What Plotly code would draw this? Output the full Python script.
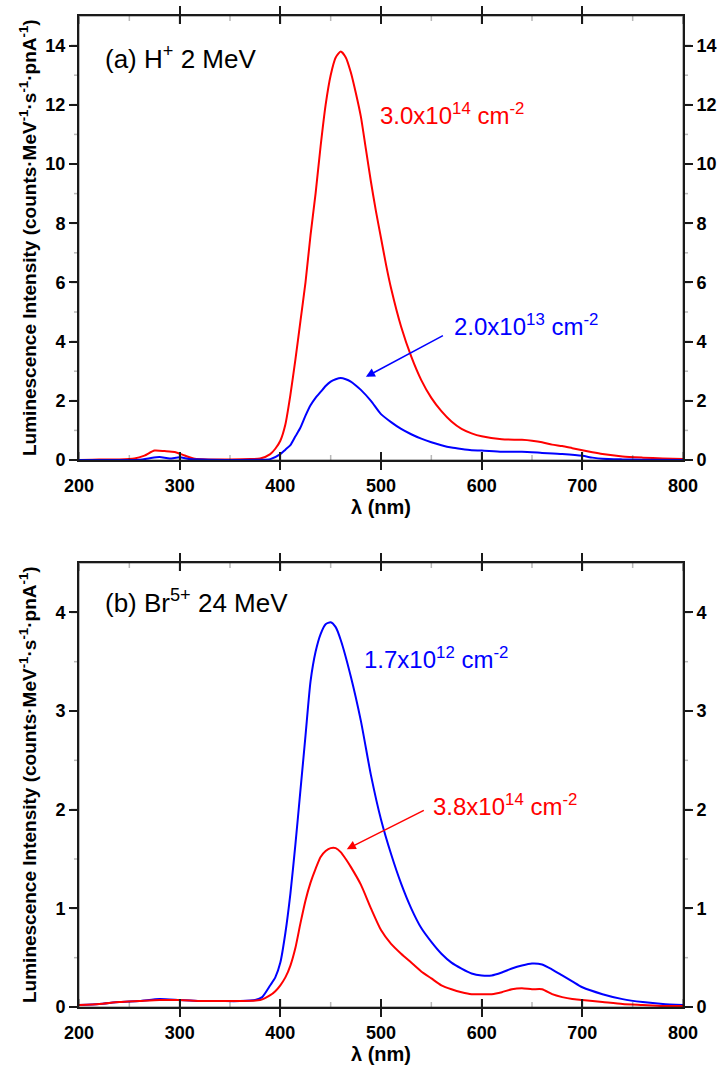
import plotly.graph_objects as go

# ---- Data: panel (a) H+ 2 MeV ----
wl_a_red = [200, 220, 240, 255, 265, 275, 285, 295, 305, 315, 330, 350, 370, 380, 390, 395, 400, 405, 410, 415,
            420, 425, 430, 435, 440, 445, 450, 455, 460, 465, 470, 475, 480, 485, 490, 495, 500, 505, 510, 520,
            530, 540, 550, 560, 570, 580, 590, 600, 620, 640, 650, 660, 670, 680, 690, 700, 710, 720, 740, 760,
            780, 800]
int_a_red = [0.0, 0.02, 0.02, 0.05, 0.15, 0.32, 0.30, 0.27, 0.15, 0.04, 0.02, 0.02, 0.03, 0.05, 0.2, 0.38, 0.65, 1.2, 2.2, 3.4,
             4.7, 6.0, 7.6, 9.0, 10.6, 12.0, 13.0, 13.6, 13.8, 13.6, 13.1, 12.4, 11.6, 10.5, 9.4, 8.4, 7.5, 6.6, 5.8, 4.5,
             3.5, 2.7, 2.1, 1.65, 1.3, 1.05, 0.9, 0.8, 0.7, 0.68, 0.65, 0.6, 0.52, 0.47, 0.4, 0.33, 0.26, 0.2, 0.12, 0.08,
             0.05, 0.03]

wl_a_blue = [200, 260, 270, 280, 290, 300, 310, 330, 380, 390, 400, 405, 410, 415, 420, 425, 430, 435, 440, 445,
             450, 455, 460, 465, 470, 475, 480, 490, 500, 510, 520, 530, 540, 550, 560, 570, 580, 590, 600, 620,
             640, 660, 680, 700, 710, 720, 740, 760, 800]
int_a_blue = [0.0, 0.01, 0.06, 0.1, 0.05, 0.09, 0.03, 0.01, 0.01, 0.03, 0.2, 0.35, 0.5, 0.8, 1.1, 1.5, 1.85, 2.1, 2.3, 2.5,
              2.65, 2.73, 2.77, 2.73, 2.65, 2.52, 2.37, 2.0, 1.55, 1.28, 1.05, 0.87, 0.72, 0.6, 0.5, 0.42, 0.37, 0.33, 0.32, 0.28,
              0.28, 0.24, 0.2, 0.14, 0.08, 0.04, 0.02, 0.01, 0.0]

# ---- Data: panel (b) Br5+ 24 MeV ----
wl_b_blue = [200, 220, 240, 260, 280, 300, 320, 340, 360, 375, 382, 390, 395, 400, 405, 410, 415, 420, 425, 430,
             435, 440, 445, 450, 455, 460, 470, 480, 490, 500, 510, 520, 530, 540, 550, 560, 570, 580, 590, 600,
             610, 620, 630, 640, 650, 660, 670, 680, 690, 700, 720, 740, 760, 780, 800]
int_b_blue = [0.02, 0.03, 0.05, 0.06, 0.08, 0.07, 0.06, 0.06, 0.06, 0.07, 0.1, 0.22, 0.3, 0.45, 0.75, 1.15, 1.65, 2.2, 2.75, 3.3,
              3.6, 3.78, 3.88, 3.9, 3.85, 3.72, 3.35, 2.9, 2.35, 1.9, 1.55, 1.25, 1.0, 0.8, 0.66, 0.54, 0.45, 0.39, 0.34, 0.32,
              0.32, 0.35, 0.39, 0.42, 0.44, 0.43, 0.38, 0.32, 0.26, 0.2, 0.13, 0.08, 0.05, 0.03, 0.02]

wl_b_red = [200, 220, 240, 260, 280, 300, 320, 340, 360, 380, 390, 395, 400, 405, 410, 415, 420, 425, 430, 435,
            440, 445, 450, 455, 460, 465, 470, 480, 490, 500, 510, 520, 530, 540, 550, 560, 570, 580, 590, 600,
            610, 620, 630, 640, 650, 660, 670, 680, 690, 700, 720, 740, 760, 780, 800]
int_b_red = [0.02, 0.03, 0.05, 0.06, 0.07, 0.07, 0.06, 0.06, 0.06, 0.07, 0.12, 0.16, 0.22, 0.3, 0.42, 0.6, 0.85, 1.08, 1.26, 1.4,
             1.52, 1.58, 1.61, 1.61, 1.57, 1.5, 1.42, 1.24, 1.0, 0.78, 0.64, 0.54, 0.45, 0.36, 0.29, 0.22, 0.18, 0.15, 0.13, 0.13,
             0.13, 0.15, 0.18, 0.19, 0.18, 0.18, 0.13, 0.1, 0.08, 0.07, 0.05, 0.03, 0.02, 0.01, 0.01]

x_ticks = [200, 300, 400, 500, 600, 700, 800]
x_minor = [250, 350, 450, 550, 650, 750]
y_ticks_a = [0, 2, 4, 6, 8, 10, 12, 14]
y_minor_a = [1, 3, 5, 7, 9, 11, 13]
y_ticks_b = [0, 1, 2, 3, 4]
y_minor_b = [0.5, 1.5, 2.5, 3.5]

RED = "#FF0000"
BLUE = "#0000FF"
INK = "#1a1a1a"
FONT = "Arial, 'Liberation Sans', sans-serif"

W, H = 718, 1071
PX_L, PX_R = 79, 683
xl, xr = PX_L / W, PX_R / W
a_top, a_bot = 1 - 16 / H, 1 - 460 / H
b_top, b_bot = 1 - 563 / H, 1 - 1007 / H
plot_w = PX_R - PX_L
plot_h = 444

fig = go.Figure()
line_kw = dict(width=2, shape="spline", smoothing=0.6)
fig.add_trace(go.Scatter(x=wl_a_red, y=int_a_red, mode="lines", line=dict(color=RED, **line_kw), xaxis="x", yaxis="y"))
fig.add_trace(go.Scatter(x=wl_a_blue, y=int_a_blue, mode="lines", line=dict(color=BLUE, **line_kw), xaxis="x", yaxis="y"))
fig.add_trace(go.Scatter(x=wl_b_blue, y=int_b_blue, mode="lines", line=dict(color=BLUE, **line_kw), xaxis="x2", yaxis="y2"))
fig.add_trace(go.Scatter(x=wl_b_red, y=int_b_red, mode="lines", line=dict(color=RED, **line_kw), xaxis="x2", yaxis="y2"))
# invisible carriers so the right-hand (mirrored) axes are drawn
fig.add_trace(go.Scatter(x=wl_a_red, y=int_a_red, mode="lines", opacity=0, hoverinfo="skip", xaxis="x", yaxis="y3"))
fig.add_trace(go.Scatter(x=wl_b_red, y=int_b_red, mode="lines", opacity=0, hoverinfo="skip", xaxis="x2", yaxis="y4"))

tickfont = dict(family=FONT, size=18, color="black", weight="bold")

def xaxis(anchor, dom):
    return dict(domain=dom, anchor=anchor, range=[200, 800], tickmode="array", tickvals=x_ticks,
                ticks="inside", ticklen=8, tickwidth=2, tickcolor=INK,
                showline=True, linecolor=INK, linewidth=2, mirror="allticks",
                showgrid=False, zeroline=False, tickfont=tickfont, ticklabelstandoff=8,
                title=dict(text="λ (nm)", font=dict(family=FONT, size=20, color="black", weight="bold"), standoff=2),
                automargin=False)

def yaxis(anchor, dom, rng, tv, side="left", overlay=None):
    d = dict(domain=dom, anchor=anchor, range=rng, tickmode="array", tickvals=tv, ticks="outside", ticklen=8,
             tickwidth=2, tickcolor=INK, showline=True, linecolor=INK, linewidth=2, showgrid=False,
             zeroline=False, tickfont=tickfont, side=side, automargin=False)
    if overlay:
        d["overlaying"] = overlay
    return d

fig.update_layout(
    template="simple_white",
    width=W, height=H, margin=dict(l=0, r=0, t=0, b=0),
    paper_bgcolor="white", plot_bgcolor="white", showlegend=False,
    xaxis=xaxis("y", [xl, xr]),
    yaxis=yaxis("x", [a_bot, a_top], [0, 15], y_ticks_a),
    yaxis3=yaxis("x", [a_bot, a_top], [0, 15], y_ticks_a, side="right", overlay="y"),
    xaxis2=xaxis("y2", [xl, xr]),
    yaxis2=yaxis("x2", [b_bot, b_top], [0, 4.5], y_ticks_b),
    yaxis4=yaxis("x2", [b_bot, b_top], [0, 4.5], y_ticks_b, side="right", overlay="y2"),
)

# frame and tick marks drawn as shapes (positions taken from the tick lists, via the axes)
shapes = []
def tick_shapes(xref, yref, yt, ym):
    xd, yd = xref + " domain", yref + " domain"
    shapes.append(dict(type="rect", xref=xd, yref=yd, x0=0, x1=1, y0=0, y1=1,
                       line=dict(color=INK, width=2), fillcolor="rgba(0,0,0,0)", layer="above"))
    for vals, ln, w in [(x_ticks, 8, 2), (x_minor, 5, 1.5)]:
        for v in vals:
            f = ln / plot_h
            shapes.append(dict(type="line", xref=xref, yref=yd, x0=v, x1=v, y0=0, y1=f, line=dict(color=INK, width=w)))
            shapes.append(dict(type="line", xref=xref, yref=yd, x0=v, x1=v, y0=1, y1=1 - f, line=dict(color=INK, width=w)))
    for vals, ln, w in [(yt, 8, 2), (ym, 5, 1.5)]:
        for v in vals:
            f = ln / plot_w
            shapes.append(dict(type="line", xref=xd, yref=yref, x0=0, x1=-f, y0=v, y1=v, line=dict(color=INK, width=w)))
            shapes.append(dict(type="line", xref=xd, yref=yref, x0=1, x1=1 + f, y0=v, y1=v, line=dict(color=INK, width=w)))

tick_shapes("x", "y", y_ticks_a, y_minor_a)
tick_shapes("x2", "y2", y_ticks_b, y_minor_b)
fig.update_layout(shapes=shapes)

ytitle = "Luminescence Intensity (counts·MeV<sup>-1</sup>·s<sup>-1</sup>·pnA<sup>-1</sup>)"
tfont = dict(family=FONT, size=19, color="black", weight="bold")
for yc in [(a_top + a_bot) / 2, (b_top + b_bot) / 2]:
    fig.add_annotation(text=ytitle, xref="paper", yref="paper", x=28 / W, y=yc, textangle=-90,
                       showarrow=False, font=tfont, xanchor="center", yanchor="middle")

lab = dict(family=FONT, size=26, color="black")
fig.add_annotation(text="(a) H<sup>+</sup> 2 MeV", xref="x", yref="y", x=224, y=13.6, xanchor="left",
                   yanchor="middle", showarrow=False, font=lab)
fig.add_annotation(text="(b) Br<sup>5+</sup> 24 MeV", xref="x2", yref="y2", x=224, y=4.11, xanchor="left",
                   yanchor="middle", showarrow=False, font=lab)

def flab(color):
    return dict(family=FONT, size=24, color=color)

fig.add_annotation(text="3.0x10<sup>14</sup> cm<sup>-2</sup>", xref="x", yref="y", x=497, y=11.7, xanchor="left",
                   yanchor="middle", showarrow=False, font=flab(RED))
fig.add_annotation(text="2.0x10<sup>13</sup> cm<sup>-2</sup>", xref="x", yref="y", x=571, y=4.55, xanchor="left",
                   yanchor="middle", showarrow=False, font=flab(BLUE))
fig.add_annotation(text="1.7x10<sup>12</sup> cm<sup>-2</sup>", xref="x2", yref="y2", x=481, y=3.54, xanchor="left",
                   yanchor="middle", showarrow=False, font=flab(BLUE))
fig.add_annotation(text="3.8x10<sup>14</sup> cm<sup>-2</sup>", xref="x2", yref="y2", x=550, y=2.05, xanchor="left",
                   yanchor="middle", showarrow=False, font=flab(RED))

# arrows
fig.add_annotation(x=485, y=2.81, ax=563, ay=4.23, xref="x", yref="y", axref="x", ayref="y", text="",
                   showarrow=True, arrowhead=2, arrowsize=1.2, arrowwidth=1.5, arrowcolor=BLUE)
fig.add_annotation(x=466, y=1.6, ax=544, ay=2.0, xref="x2", yref="y2", axref="x2", ayref="y2", text="",
                   showarrow=True, arrowhead=2, arrowsize=1.2, arrowwidth=1.5, arrowcolor=RED)

fig.write_html("out.html", config={"displayModeBar": False},
               post_script="document.body.style.margin='0';document.body.style.padding='0';")
